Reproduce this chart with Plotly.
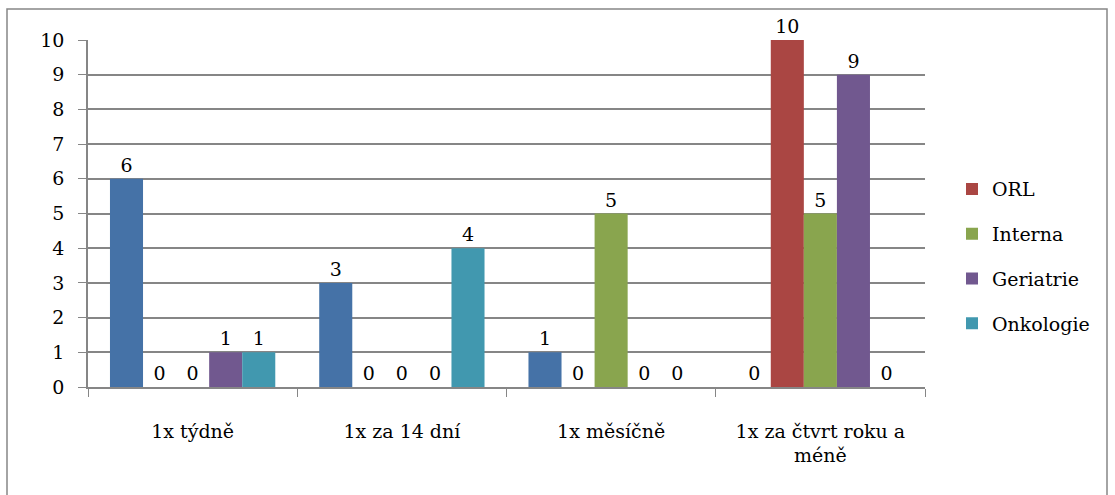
import plotly.graph_objects as go

categories = ["1x týdně", "1x za 14 dní", "1x měsíčně", "1x za čtvrt roku a<br>méně"]
series_names = ["", "ORL", "Interna", "Geriatrie", "Onkologie"]
s_blue = [6, 3, 1, 0]
s_orl = [0, 0, 0, 10]
s_interna = [0, 0, 5, 5]
s_geriatrie = [1, 0, 0, 9]
s_onkologie = [1, 4, 0, 0]
colors = ["#4572A7", "#AA4643", "#89A54E", "#71588F", "#4198AF"]
y_ticks = list(range(0, 11))

FONT = "DejaVu Serif"
fig = go.Figure()
for i, (name, vals) in enumerate(zip(series_names, [s_blue, s_orl, s_interna, s_geriatrie, s_onkologie])):
    fig.add_trace(go.Bar(
        x=categories, y=vals, name=name, marker_color=colors[i],
        marker_line_width=0,
        text=[str(v) for v in vals], textposition="outside",
        textfont=dict(family=FONT, size=19, color="black"),
        cliponaxis=False, showlegend=(i > 0), legendgroup=str(i),
    ))

fig.update_layout(
    width=1115, height=495,
    paper_bgcolor="white", plot_bgcolor="white",
    margin=dict(l=88, r=190, t=40, b=108),
    barmode="group", bargap=0.21, bargroupgap=0,
    font=dict(family=FONT, size=19, color="black"),
    legend=dict(x=(952 - 925) / 837 + 1, y=0.377, xanchor="left", yanchor="middle",
                font=dict(family=FONT, size=19), tracegroupgap=17,
                itemwidth=30),
    xaxis=dict(showline=True, linecolor="#868686", linewidth=1.5,
               ticks="outside", tickson="boundaries", ticklen=8, tickcolor="#868686",
               tickfont=dict(family=FONT, size=19), showgrid=False, ticklabelstandoff=26),
    yaxis=dict(range=[0, 10], tickvals=y_ticks, showline=True, linecolor="#868686", linewidth=1.5,
               ticks="outside", ticklen=8, tickcolor="#868686",
               showgrid=True, gridcolor="#868686", gridwidth=1.5, ticklabelstandoff=10,
               tickfont=dict(family=FONT, size=19), zeroline=False),
    shapes=[dict(type="rect", xref="paper", yref="paper",
                 x0=(7 - 88) / 837, x1=(1107 - 88) / 837,
                 y0=(387 - 500) / 347, y1=(387 - 9) / 347,
                 line=dict(color="#868686", width=1.5), fillcolor="rgba(0,0,0,0)", layer="below")],
)
fig.write_html("out.html", config={"displayModeBar": False},
               post_script="document.body.style.margin='0';document.body.style.padding='0';")
